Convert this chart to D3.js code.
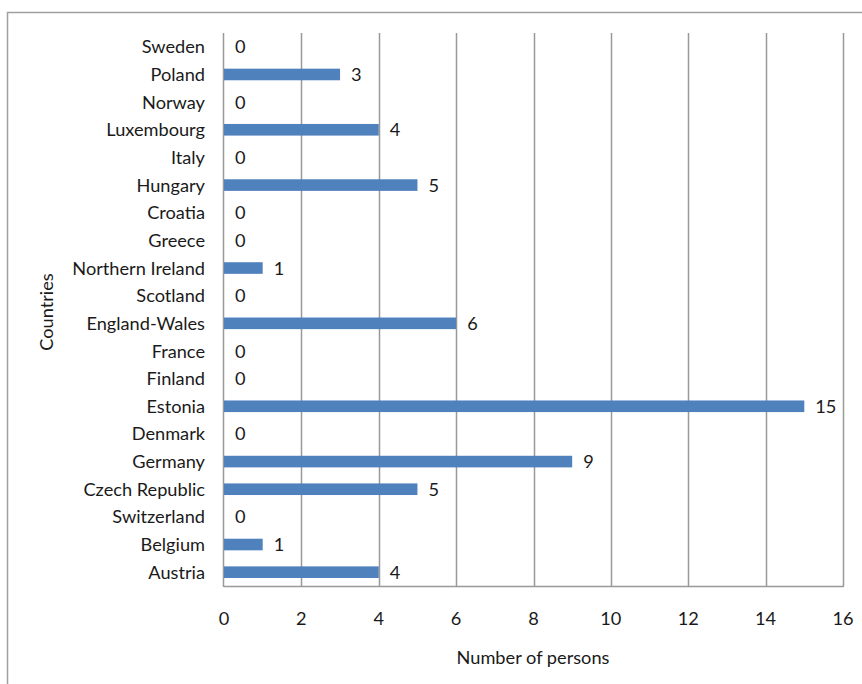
<!DOCTYPE html>
<html><head><meta charset="utf-8">
<script src="https://cdn.jsdelivr.net/npm/d3@7"></script>
<style>body{margin:0;background:#fff}svg{display:block}text{font-family:Lato,"Open Sans",sans-serif;fill:#1a1a1a}</style>
</head><body><svg id="c" width="862" height="684"></svg>
<script>
const categories = ["Sweden","Poland","Norway","Luxembourg","Italy","Hungary","Croatia","Greece","Northern Ireland","Scotland","England-Wales","France","Finland","Estonia","Denmark","Germany","Czech Republic","Switzerland","Belgium","Austria"];
const values = [0,3,0,4,0,5,0,0,1,0,6,0,0,15,0,9,5,0,1,4];
const xTicks = [0,2,4,6,8,10,12,14,16];
const xTitle = "Number of persons";
const yTitle = "Countries";
const FS = 18.2;

const svg = d3.select("#c");
svg.append("rect").attr("x",7.5).attr("y",12.5).attr("width",900).attr("height",700)
  .attr("fill","none").attr("stroke","#a0a0a0").attr("stroke-width",1.5);

const L=224, R=843, T=33, B=586;
const x = d3.scaleLinear().domain([0,16]).range([L,R]);
const y = d3.scaleBand().domain(categories).range([T,B]).paddingInner(0.58).paddingOuter(0.29);

svg.append("g").selectAll("line").data(xTicks.slice(1)).join("line")
  .attr("x1",d=>Math.round(x(d))+0.5).attr("x2",d=>Math.round(x(d))+0.5)
  .attr("y1",T).attr("y2",B).attr("stroke","#999").attr("stroke-width",1.5);
svg.append("line").attr("x1",L).attr("x2",R+1).attr("y1",B+0.5).attr("y2",B+0.5).attr("stroke","#999").attr("stroke-width",1.5);
svg.append("line").attr("x1",L-0.5).attr("x2",L-0.5).attr("y1",T).attr("y2",B+1).attr("stroke","#999").attr("stroke-width",1.5);

svg.append("g").selectAll("rect").data(categories).join("rect")
  .attr("x",L).attr("y",(d)=>y(d)).attr("height",y.bandwidth())
  .attr("width",(d,i)=>x(values[i])-L).attr("fill","#4f81bd");

svg.append("g").selectAll("text").data(categories).join("text")
  .attr("x",(d,i)=>x(values[i])+11).attr("y",d=>y(d)+y.bandwidth()/2)
  .attr("dy","0.36em").attr("font-size",FS).text((d,i)=>values[i]);

svg.append("g").selectAll("text").data(categories).join("text")
  .attr("x",L-19).attr("y",d=>y(d)+y.bandwidth()/2)
  .attr("dy","0.36em").attr("text-anchor","end").attr("font-size",FS).text(d=>d);

svg.append("g").selectAll("text").data(xTicks).join("text")
  .attr("x",d=>x(d)).attr("y",618).attr("dy","0.36em").attr("text-anchor","middle")
  .attr("font-size",FS).text(d=>d);

svg.append("text").attr("x",533).attr("y",657).attr("dy","0.36em").attr("text-anchor","middle")
  .attr("font-size",FS).text(xTitle);
svg.append("text").attr("transform","translate(46,312) rotate(-90)").attr("dy","0.36em")
  .attr("text-anchor","middle").attr("font-size",FS).text(yTitle);
</script></body></html>
